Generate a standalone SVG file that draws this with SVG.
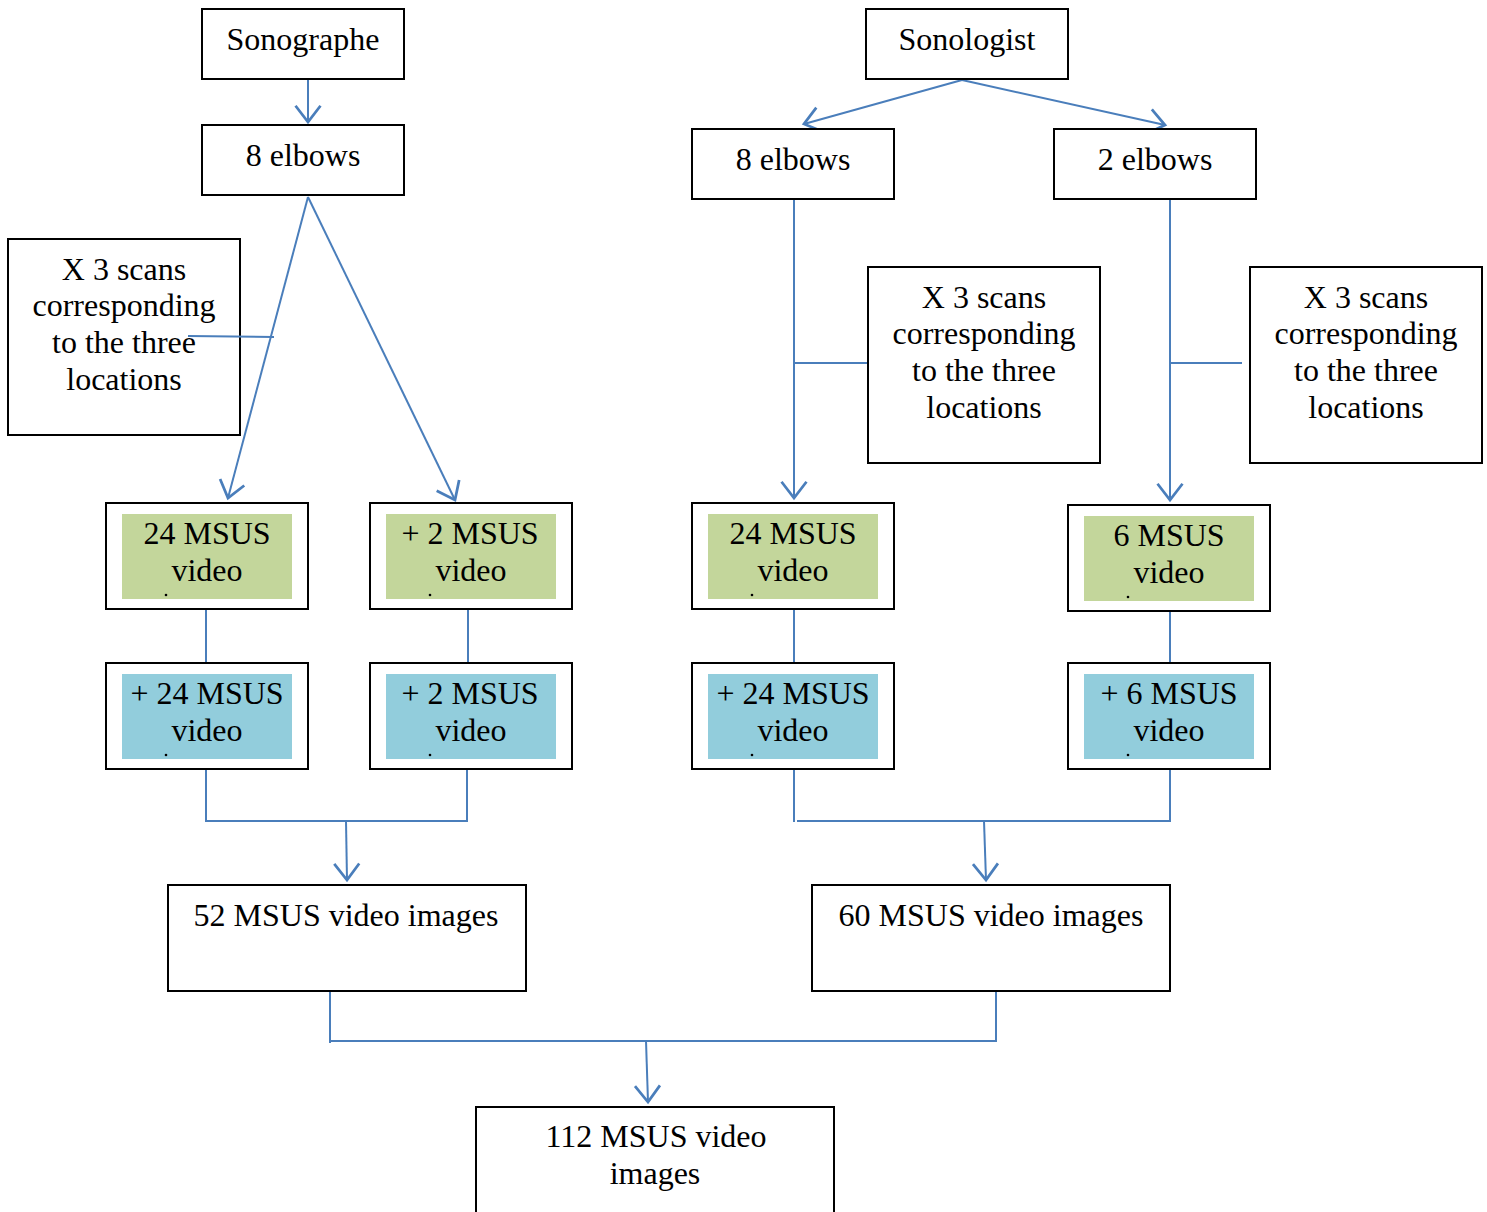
<svg xmlns="http://www.w3.org/2000/svg" width="1487" height="1212" viewBox="0 0 1487 1212">
  <style>
    .box { fill: #ffffff; stroke: #000000; stroke-width: 2; }
    .green { fill: #c3d69b; }
    .blue { fill: #92cddc; }
    .t { font-family: "Liberation Serif", "Times New Roman", serif; font-size: 32px; fill: #000000; text-anchor: middle; }
    .dot { fill: #000000; }
    .c { fill: none; stroke: #4a7ebb; stroke-width: 2; }
  </style>
  <defs>
    <marker id="arrow" markerUnits="userSpaceOnUse" markerWidth="30" markerHeight="30" viewBox="-14 -12 16 24" refX="0" refY="0" orient="auto">
      <path d="M-13,-10 L0,0 L-13,10" fill="none" stroke="#4a7ebb" stroke-width="2.2"/>
    </marker>
  </defs>

  <rect width="1487" height="1212" fill="#ffffff"/>

  <!-- connectors -->
  <g id="connectors">
    <path class="c" d="M308,79 L308,122" marker-end="url(#arrow)"/>
    <path class="c" d="M308,197 L228,498" marker-end="url(#arrow)"/>
    <path class="c" d="M308,197 L455,500" marker-end="url(#arrow)"/>

    <path class="c" d="M962,80 L804,124" marker-end="url(#arrow)"/>
    <path class="c" d="M962,80 L1165,125" marker-end="url(#arrow)"/>
    <path class="c" d="M794,199 L794,498" marker-end="url(#arrow)"/>
    <path class="c" d="M794,363 L867,363"/>
    <path class="c" d="M1170,199 L1170,500" marker-end="url(#arrow)"/>
    <path class="c" d="M1170,363 L1242,363"/>

    <path class="c" d="M206,609 L206,663"/>
    <path class="c" d="M468,609 L468,663"/>
    <path class="c" d="M794,609 L794,663"/>
    <path class="c" d="M1170,611 L1170,663"/>

    <path class="c" d="M206,769 L206,821 L468,821"/>
    <path class="c" d="M467,769 L467,821"/>
    <path class="c" d="M346,821 L347,880" marker-end="url(#arrow)"/>
    <path class="c" d="M794,769 L794,822"/>
    <path class="c" d="M797,821 L1170,821 L1170,769"/>
    <path class="c" d="M984,821 L986,880" marker-end="url(#arrow)"/>

    <path class="c" d="M330,991 L330,1043"/>
    <path class="c" d="M330,1041 L996,1041 L996,991"/>
    <path class="c" d="M646,1041 L648,1102" marker-end="url(#arrow)"/>
  </g>

  <!-- operator boxes -->
  <g id="sonographe">
    <rect class="box" x="202" y="9" width="202" height="70"/>
    <text class="t" x="303" y="50">Sonographe</text>
  </g>
  <g id="sonologist">
    <rect class="box" x="866" y="9" width="202" height="70"/>
    <text class="t" x="967" y="50">Sonologist</text>
  </g>

  <!-- elbow counts -->
  <g id="elbows-left">
    <rect class="box" x="202" y="125" width="202" height="70"/>
    <text class="t" x="303" y="166">8 elbows</text>
  </g>
  <g id="elbows-mid">
    <rect class="box" x="692" y="129" width="202" height="70"/>
    <text class="t" x="793" y="170">8 elbows</text>
  </g>
  <g id="elbows-right">
    <rect class="box" x="1054" y="129" width="202" height="70"/>
    <text class="t" x="1155" y="170">2 elbows</text>
  </g>

  <!-- scan notes -->
  <g id="note-left">
    <rect class="box" x="8" y="239" width="232" height="196"/>
    <text class="t" x="124" y="280">X 3 scans</text>
    <text class="t" x="124" y="316">corresponding</text>
    <text class="t" x="124" y="353">to the three</text>
    <text class="t" x="124" y="390">locations</text>
  </g>
  <g id="note-mid">
    <rect class="box" x="868" y="267" width="232" height="196"/>
    <text class="t" x="984" y="308">X 3 scans</text>
    <text class="t" x="984" y="344">corresponding</text>
    <text class="t" x="984" y="381">to the three</text>
    <text class="t" x="984" y="418">locations</text>
  </g>
  <g id="note-right">
    <rect class="box" x="1250" y="267" width="232" height="196"/>
    <text class="t" x="1366" y="308">X 3 scans</text>
    <text class="t" x="1366" y="344">corresponding</text>
    <text class="t" x="1366" y="381">to the three</text>
    <text class="t" x="1366" y="418">locations</text>
  </g>

  <!-- note leader for the left branch, laid over the note text -->
  <g id="note-left-leader">
    <path class="c" d="M188,336 L274,337"/>
  </g>

  <!-- first-pass video sets -->
  <g id="video-a1">
    <rect class="box" x="106" y="503" width="202" height="106"/>
    <rect class="green" x="122" y="514" width="170" height="85"/>
    <text class="t" x="207" y="544">24 MSUS</text>
    <text class="t" x="207" y="581">video</text>
    <circle class="dot" cx="166" cy="595" r="1.3"/>
  </g>
  <g id="video-b1">
    <rect class="box" x="370" y="503" width="202" height="106"/>
    <rect class="green" x="386" y="514" width="170" height="85"/>
    <text class="t" x="470" y="544">+ 2 MSUS</text>
    <text class="t" x="471" y="581">video</text>
    <circle class="dot" cx="430" cy="595" r="1.3"/>
  </g>
  <g id="video-c1">
    <rect class="box" x="692" y="503" width="202" height="106"/>
    <rect class="green" x="708" y="514" width="170" height="85"/>
    <text class="t" x="793" y="544">24 MSUS</text>
    <text class="t" x="793" y="581">video</text>
    <circle class="dot" cx="752" cy="595" r="1.3"/>
  </g>
  <g id="video-d1">
    <rect class="box" x="1068" y="505" width="202" height="106"/>
    <rect class="green" x="1084" y="516" width="170" height="85"/>
    <text class="t" x="1169" y="546">6 MSUS</text>
    <text class="t" x="1169" y="583">video</text>
    <circle class="dot" cx="1128" cy="597" r="1.3"/>
  </g>

  <!-- second-pass video sets -->
  <g id="video-a2">
    <rect class="box" x="106" y="663" width="202" height="106"/>
    <rect class="blue" x="122" y="674" width="170" height="85"/>
    <text class="t" x="207" y="704">+ 24 MSUS</text>
    <text class="t" x="207" y="741">video</text>
    <circle class="dot" cx="166" cy="755" r="1.3"/>
  </g>
  <g id="video-b2">
    <rect class="box" x="370" y="663" width="202" height="106"/>
    <rect class="blue" x="386" y="674" width="170" height="85"/>
    <text class="t" x="470" y="704">+ 2 MSUS</text>
    <text class="t" x="471" y="741">video</text>
    <circle class="dot" cx="430" cy="755" r="1.3"/>
  </g>
  <g id="video-c2">
    <rect class="box" x="692" y="663" width="202" height="106"/>
    <rect class="blue" x="708" y="674" width="170" height="85"/>
    <text class="t" x="793" y="704">+ 24 MSUS</text>
    <text class="t" x="793" y="741">video</text>
    <circle class="dot" cx="752" cy="755" r="1.3"/>
  </g>
  <g id="video-d2">
    <rect class="box" x="1068" y="663" width="202" height="106"/>
    <rect class="blue" x="1084" y="674" width="170" height="85"/>
    <text class="t" x="1169" y="704">+ 6 MSUS</text>
    <text class="t" x="1169" y="741">video</text>
    <circle class="dot" cx="1128" cy="755" r="1.3"/>
  </g>

  <!-- totals -->
  <g id="total-sonographe">
    <rect class="box" x="168" y="885" width="358" height="106"/>
    <text class="t" x="346" y="926">52 MSUS video images</text>
  </g>
  <g id="total-sonologist">
    <rect class="box" x="812" y="885" width="358" height="106"/>
    <text class="t" x="991" y="926">60 MSUS video images</text>
  </g>
  <g id="total-all">
    <rect class="box" x="476" y="1107" width="358" height="110"/>
    <text class="t" x="656" y="1147">112 MSUS video</text>
    <text class="t" x="655" y="1184">images</text>
  </g>
</svg>
